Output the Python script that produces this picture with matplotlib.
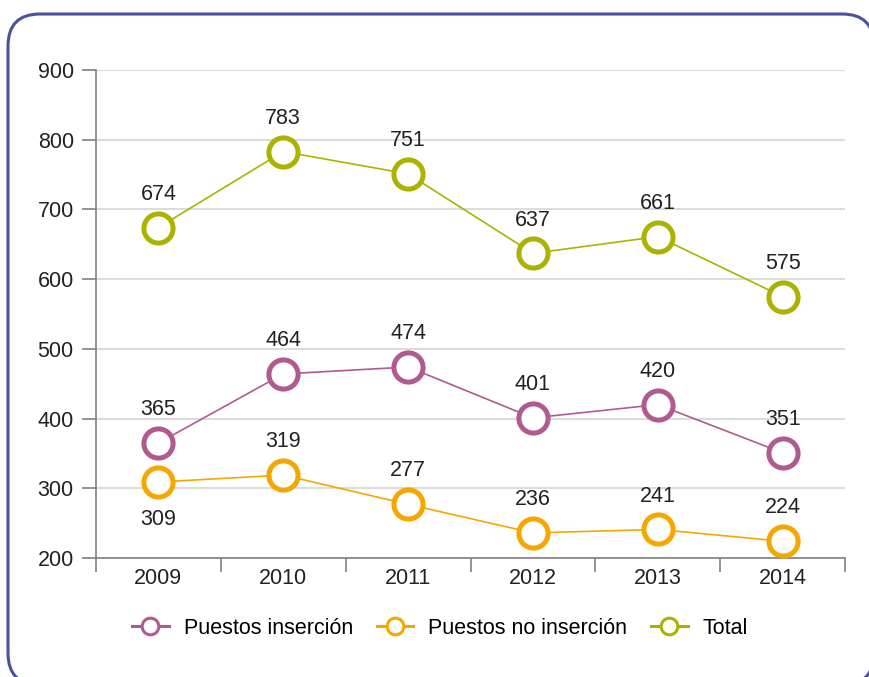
import matplotlib.pyplot as plt
import numpy as np
from matplotlib.patches import FancyBboxPatch
from matplotlib.transforms import IdentityTransform

# -------- DATA --------
years = ["2009", "2010", "2011", "2012", "2013", "2014"]
insercion = [365, 464, 474, 401, 420, 351]
no_insercion = [309, 319, 277, 236, 241, 224]
total = [674, 783, 751, 637, 661, 575]

series_names = ["Puestos inserción", "Puestos no inserción", "Total"]
colors = ["#B05A8F", "#F5A700", "#A9B300"]

plt.rcParams['font.family'] = ['Liberation Sans', 'DejaVu Sans']

W, H = 869, 677
fig = plt.figure(figsize=(W / 100, H / 100), dpi=100)

# rounded frame in pixels (partly outside the picture)
# filled white so agg does not clip the curved corners oddly
box = FancyBboxPatch((8, -8), 874 - 8, H - 14 + 8,
                     boxstyle="round,pad=0,rounding_size=32",
                     transform=IdentityTransform(),
                     facecolor="white", edgecolor="#4B5299", linewidth=2.2,
                     zorder=-1)
fig.patches.append(box)

ax = fig.add_axes([96 / W, 1 - 558 / H, (845 - 96) / W, (558 - 70) / H])
ax.set_facecolor("none")

x = np.arange(len(years))
ax.set_xlim(-0.5, len(years) - 0.5)
ax.set_ylim(200, 900)

# -------- LINES --------
all_series = [insercion, no_insercion, total]
for vals, name, col in zip(all_series, series_names, colors):
    ax.plot(x, vals, color=col, linewidth=1.2, marker="o", markersize=21,
            markerfacecolor="white", markeredgecolor=col, markeredgewidth=3.6,
            label=name, clip_on=False, zorder=3)

# -------- VALUE LABELS --------
for vals, sname in zip(all_series, series_names):
    for i, v in enumerate(vals):
        dy = 24
        if sname == "Puestos no inserción" and i == 0:
            dy = -27
        ax.annotate(str(v), (i, v), xytext=(0, dy), textcoords="offset points",
                    ha="center", va="center", fontsize=15.5, color="#222222")

# -------- AXES --------
ax.set_yticks(np.arange(200, 901, 100))
ax.grid(axis="y", color="#dcdcdc", linewidth=1.5)
ax.set_axisbelow(True)
ax.set_xticks(x)
ax.set_xticklabels(years)
ax.set_xticks(np.arange(-0.5, len(years), 1), minor=True)
ax.tick_params(axis="x", which="major", length=0, pad=7, labelsize=15.5,
               labelcolor="#222222")
ax.tick_params(axis="x", which="minor", length=10, width=1.2, color="#808080",
               direction="out")
ax.tick_params(axis="y", length=10, width=1.2, color="#808080", pad=6,
               labelsize=15.5, labelcolor="#222222")
for s in ["top", "right"]:
    ax.spines[s].set_visible(False)
for s in ["left", "bottom"]:
    ax.spines[s].set_color("#808080")
    ax.spines[s].set_linewidth(1.2)

# -------- LEGEND --------
handles = [plt.Line2D([0], [0], color=c, linewidth=2.2, marker="o",
                      markersize=12, markerfacecolor="white",
                      markeredgecolor=c, markeredgewidth=2.2) for c in colors]
fig.legend(handles, series_names, loc="center", ncol=3,
           bbox_to_anchor=(440 / W, 1 - 628 / H), frameon=False,
           handlelength=1.7, columnspacing=1.1, handletextpad=0.7,
           prop={"size": 15.5})

fig.savefig("out.png", dpi=100)
